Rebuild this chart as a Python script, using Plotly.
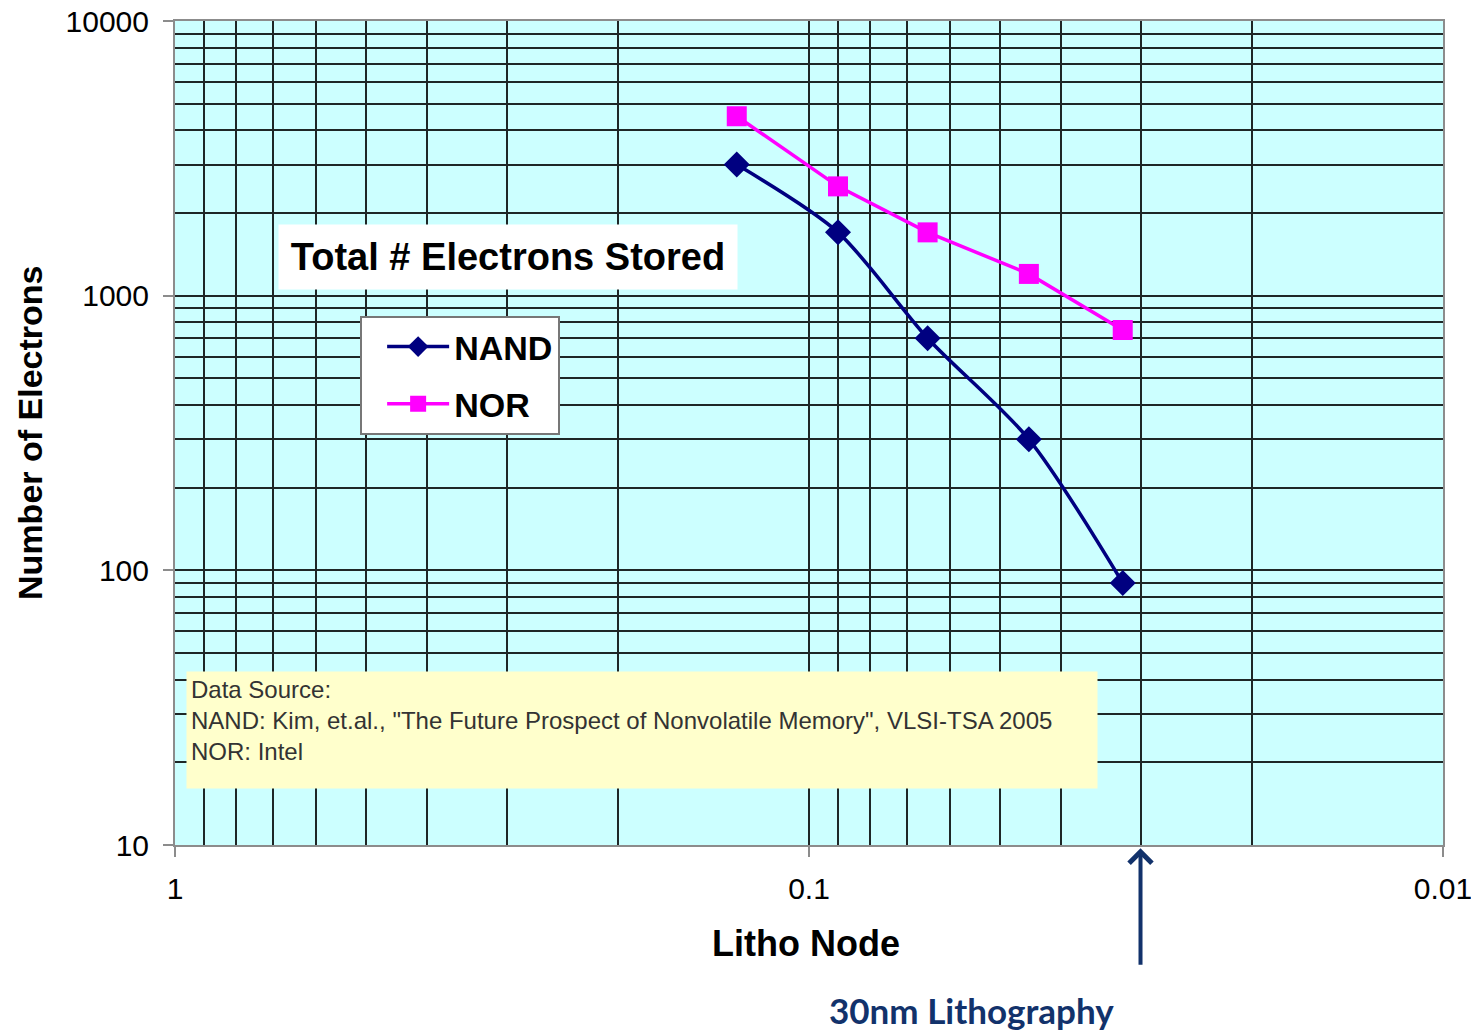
import plotly.graph_objects as go
import numpy as np

# ---- data ----
nand_node = [0.13, 0.09, 0.065, 0.045, 0.032]
nand_electrons = [3000, 1700, 700, 300, 90]
nor_node = [0.13, 0.09, 0.065, 0.045, 0.032]
nor_electrons = [4500, 2500, 1700, 1200, 750]

x_tick_vals = [1, 0.1, 0.01]
x_tick_text = ["1", "0.1", "0.01"]
y_tick_vals = [10, 100, 1000, 10000]
y_tick_text = ["10", "100", "1000", "10000"]

x_minor = [d * m for d in [0.01, 0.1] for m in range(2, 10)]
y_minor = [d * m for d in [10, 100, 1000] for m in range(2, 10)]

GRID = "#1e2626"
AXIS = "#8c8c8c"
NAVY = "#12326B"
FONT = "Liberation Sans, Arial, sans-serif"

fig = go.Figure()
fig.add_trace(go.Scatter(
    x=nand_node, y=nand_electrons, name="NAND", mode="lines+markers",
    line=dict(color="#000080", width=3.5, shape="spline", smoothing=0.8),
    marker=dict(symbol="diamond", size=20, color="#000080"),
    legendgroup="a",
))
fig.add_trace(go.Scatter(
    x=nor_node, y=nor_electrons, name="NOR", mode="lines+markers",
    line=dict(color="#FF00FF", width=3.5),
    marker=dict(symbol="square", size=20, color="#FF00FF"),
    legendgroup="b",
))

fig.update_layout(
    width=1471, height=1030,
    margin=dict(l=175, r=28, t=21, b=185, autoexpand=False),
    paper_bgcolor="white",
    plot_bgcolor="#CCFFFF",
    font=dict(family=FONT, color="black"),
    showlegend=True,
    legend=dict(
        x=0.146, y=0.642, xanchor="left", yanchor="top",
        bgcolor="white", bordercolor="#777777", borderwidth=2,
        font=dict(size=34, family=FONT, weight="bold", color="black"),
        tracegroupgap=10, itemwidth=62, indentation=20,
        entrywidth=117, entrywidthmode="pixels",
    ),
)

fig.update_xaxes(
    type="log", range=[0, -2], automargin=False,
    tickmode="array", tickvals=x_tick_vals, ticktext=x_tick_text,
    ticks="outside", ticklen=10, tickwidth=2, tickcolor=AXIS,
    ticklabelstandoff=6, ticklabeloverflow="allow",
    tickfont=dict(size=30, family=FONT, color="black"),
    showgrid=True, gridcolor=GRID, gridwidth=1.5,
    minor=dict(tickmode="array", tickvals=x_minor, showgrid=True,
               gridcolor=GRID, gridwidth=1.5, ticks=""),
    showline=True, linecolor=AXIS, linewidth=2, mirror=True,
    zeroline=False,
)
fig.update_yaxes(
    type="log", range=[1, 4], automargin=False,
    tickmode="array", tickvals=y_tick_vals, ticktext=y_tick_text,
    ticks="outside", ticklen=10, tickwidth=2, tickcolor=AXIS,
    ticklabelstandoff=8, ticklabeloverflow="allow",
    tickfont=dict(size=30, family=FONT, color="black"),
    showgrid=True, gridcolor=GRID, gridwidth=1.5,
    minor=dict(tickmode="array", tickvals=y_minor, showgrid=True,
               gridcolor=GRID, gridwidth=1.5, ticks=""),
    showline=True, linecolor=AXIS, linewidth=2, mirror=True,
    zeroline=False,
)

annotations = [
    # axis titles
    dict(text="<b>Litho Node</b>", xref="paper", yref="paper", x=0.4976, y=-0.12,
         xanchor="center", yanchor="middle", showarrow=False,
         font=dict(size=36, family=FONT, color="black")),
    dict(text="<b>Number of Electrons</b>", xref="paper", yref="paper", x=-0.1144, y=0.5,
         xanchor="center", yanchor="middle", showarrow=False, textangle=-90,
         font=dict(size=34, family=FONT, color="black")),
    # chart title box
    dict(text="<b>Total # Electrons Stored</b>", xref="paper", yref="paper",
         x=0.2626, y=0.7136, xanchor="center", yanchor="middle", showarrow=False,
         bgcolor="white", width=456, height=62, borderpad=1,
         font=dict(size=38, family=FONT, color="black")),
    # data source box
    dict(text=("Data Source:<br>"
               "NAND: Kim, et.al., \"The Future Prospect of Nonvolatile Memory\", VLSI-TSA 2005<br>"
               "NOR: Intel"),
         xref="paper", yref="paper", x=0.3683, y=0.1396,
         xanchor="center", yanchor="middle", showarrow=False,
         bgcolor="#FFFFCC", width=902, height=108, borderpad=4,
         align="left", valign="top",
         font=dict(size=24, family=FONT, color="#333333")),
    # 30nm arrow
    dict(text="", xref="x", yref="paper", x=np.log10(0.03), y=-0.004,
         ax=0, ay=118, axref="pixel", ayref="pixel",
         showarrow=True, arrowhead=4, arrowsize=1.1, arrowwidth=4,
         arrowcolor=NAVY, standoff=0, startstandoff=0),
    dict(text="<b>30nm Lithography</b>", xref="paper", yref="paper",
         x=(971 - 175) / 1268, y=(845 - 1010) / 824,
         xanchor="center", yanchor="middle", showarrow=False,
         font=dict(size=35, family="Lato, Open Sans, sans-serif", color=NAVY)),
]
fig.update_layout(annotations=annotations)

fig.write_html(
    "out.html",
    config={"displayModeBar": False},
    post_script="document.body.style.margin='0px';document.body.style.overflow='hidden';",
)
